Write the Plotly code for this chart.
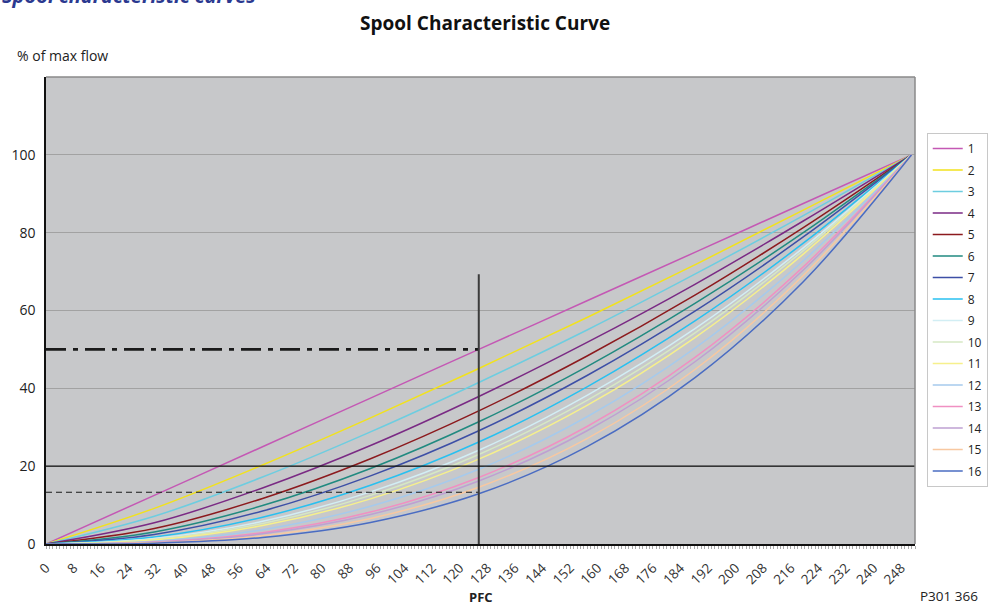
import plotly.graph_objects as go

# ---- data ----
pfc = [0, 31.4, 62.8, 94.1, 125.5, 156.9, 188.3, 219.6, 251]

curve_names = [str(i) for i in range(1, 17)]

c1 = [0, 12.5, 25.0, 37.5, 50.0, 62.5, 75.0, 87.5, 100]
c2 = [0, 9.15, 20.3, 32.4, 45.1, 58.2, 71.8, 85.8, 100]
c3 = [0, 7.13, 17.2, 28.8, 41.5, 55.0, 69.4, 84.4, 100]
c4 = [0, 5.44, 14.4, 25.3, 37.9, 51.8, 66.8, 83.0, 100]
c5 = [0, 3.98, 11.7, 21.9, 34.2, 48.3, 64.0, 81.3, 100]
c6 = [0, 3.10, 9.88, 19.4, 31.4, 45.6, 61.9, 80.0, 100]
c7 = [0, 2.47, 8.48, 17.5, 29.1, 43.3, 59.9, 78.9, 100]
c8 = [0, 1.81, 6.89, 15.1, 26.2, 40.4, 57.4, 77.3, 100]
c9 = [0, 1.41, 5.83, 13.4, 24.1, 38.2, 55.4, 76.1, 100]
c10 = [0, 1.22, 5.29, 12.5, 23.0, 36.9, 54.3, 75.4, 100]
c11 = [0, 1.03, 4.74, 11.6, 21.8, 35.6, 53.1, 74.5, 100]
c12 = [0, 0.71, 3.69, 9.69, 19.2, 32.7, 50.4, 72.8, 100]
c13 = [0, 0.50, 2.92, 8.20, 17.1, 30.2, 48.0, 71.2, 100]
c14 = [0, 0.42, 2.61, 7.58, 16.2, 29.1, 46.9, 70.4, 100]
c15 = [0, 0.31, 2.12, 6.55, 14.6, 27.1, 44.9, 69.0, 100]
c16 = [0, 0.22, 1.68, 5.54, 12.9, 25.0, 42.8, 67.4, 100]
curves = [c1, c2, c3, c4, c5, c6, c7, c8, c9, c10, c11, c12, c13, c14, c15, c16]

colors = ["#c458b4", "#f2e21c", "#6dcde0", "#7a2a84", "#8c1a1e", "#218a80",
          "#3d4fa6", "#28c0f0", "#d2eef4", "#d6e8c4", "#f6f08c", "#a6caec",
          "#f090c2", "#bea0d2", "#f8c8a0", "#4a6cc2"]

x_ticks = list(range(0, 249, 8))
y_ticks = [0, 20, 40, 60, 80, 100]

# reference markers
ref_pfc = 125.5
ref_flow_dashdot = 50
ref_flow_dashed = 13.3
ref_vline_top = 69.3
ref_flow_solid = 20

FONT = "Open Sans"

fig = go.Figure()

for name, ys, col in zip(curve_names, curves, colors):
    fig.add_trace(go.Scatter(
        x=pfc, y=ys, mode="lines", name=name, legendgroup=name,
        line=dict(color=col, width=1.5, shape="spline", smoothing=1.0),
        hoverinfo="skip"))

# reference lines
fig.add_trace(go.Scatter(x=[0, ref_pfc], y=[ref_flow_dashdot, ref_flow_dashdot], mode="lines",
                         line=dict(color="#1a1a1a", width=2.8, dash="20px,7px,5px,7px"),
                         showlegend=False, hoverinfo="skip"))
fig.add_trace(go.Scatter(x=[0, ref_pfc], y=[ref_flow_dashed, ref_flow_dashed], mode="lines",
                         line=dict(color="#1a1a1a", width=1.2, dash="6px,4px"),
                         showlegend=False, hoverinfo="skip"))
fig.add_trace(go.Scatter(x=[ref_pfc, ref_pfc], y=[0, ref_vline_top], mode="lines",
                         line=dict(color="#3c3c3c", width=2),
                         showlegend=False, hoverinfo="skip"))
fig.add_trace(go.Scatter(x=[0, 252], y=[ref_flow_solid, ref_flow_solid], mode="lines",
                         line=dict(color="#111111", width=1.2),
                         showlegend=False, hoverinfo="skip"))

# plot frame (top/right grey)
fig.add_shape(type="line", xref="paper", yref="paper", x0=0, x1=1, y0=1, y1=1,
              line=dict(color="#8a8a8a", width=1.5), layer="above")
fig.add_shape(type="line", xref="paper", yref="paper", x0=1, x1=1, y0=0, y1=1,
              line=dict(color="#8a8a8a", width=1.5), layer="above")

fig.update_layout(
    width=992, height=605,
    margin=dict(l=46, r=77, t=77, b=61, autoexpand=False),
    paper_bgcolor="white",
    plot_bgcolor="#c7c8ca",
    font=dict(family=FONT, size=12, color="#222222"),
    title=dict(text="<b>Spool Characteristic Curve</b>", x=0.489, xanchor="center",
               y=0.962, yanchor="middle", font=dict(size=19, color="#111111")),
    legend=dict(x=1.0135, xanchor="left", y=0.88, yanchor="top",
                bgcolor="white", bordercolor="#c8c8c8", borderwidth=1,
                font=dict(size=12, color="#222222"), tracegroupgap=2.5,
                itemwidth=30),
    showlegend=True,
)

fig.update_xaxes(
    range=[0, 252], tickmode="array", tickvals=x_ticks,
    ticktext=[str(v) for v in x_ticks], tickangle=-45,
    tickfont=dict(size=13.5, color="#333333"),
    showgrid=False, zeroline=False, automargin=False,
    showline=True, linecolor="#111111", linewidth=1.5,
    ticks="outside", ticklen=3, tickcolor="#aaaaaa", ticklabelstandoff=6,
    minor=dict(dtick=1, tick0=0, ticks="outside", ticklen=3, tickcolor="#aaaaaa"),
)
fig.update_yaxes(
    range=[0, 120], tickmode="array", tickvals=y_ticks,
    tickfont=dict(size=14, color="#222222"),
    showgrid=True, gridcolor="#a2a2a2", gridwidth=1, automargin=False,
    zeroline=False, showline=True, linecolor="#111111", linewidth=1.5,
    ticks="", ticklabelstandoff=6,
)

fig.add_annotation(text="% of max flow", xref="paper", yref="paper",
                   x=-0.0357, xanchor="left", y=1.045, yanchor="middle",
                   showarrow=False, font=dict(size=14, color="#222222"))
fig.add_annotation(text="<b>PFC</b>", xref="paper", yref="paper",
                   x=0.5, xanchor="center", y=-0.1135, yanchor="middle",
                   showarrow=False, font=dict(size=13, color="#222222"))
fig.add_annotation(text="P301 366", xref="paper", yref="paper",
                   x=1.039, xanchor="center", y=-0.111, yanchor="middle",
                   showarrow=False, font=dict(size=13.5, color="#222222"))
fig.add_annotation(text="<b><i>Spool characteristic curves</i></b>", xref="paper", yref="paper",
                   x=-0.0529, xanchor="left", y=1.1745, yanchor="middle",
                   showarrow=False, font=dict(size=20, color="#2b3990"))

fig.write_html("out.html", config={"displayModeBar": False},
               post_script="document.body.style.margin='0';document.body.style.overflow='hidden';")
